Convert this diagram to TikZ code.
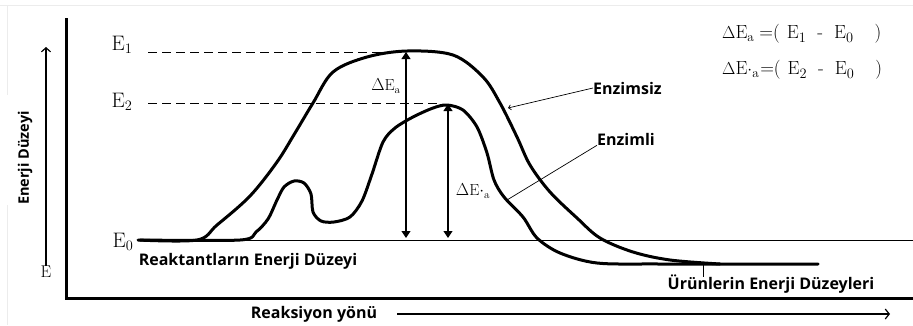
\documentclass[tikz,border=0pt]{standalone}
\usepackage{fontspec}
\newfontfamily\labfont{Open Sans}
\usetikzlibrary{arrows.meta}
\begin{document}
\begin{tikzpicture}[x=1pt,y=-1pt,
  curve/.style={line width=3pt,line join=round,line cap=round},
  frame/.style={line width=3pt},
  thinline/.style={line width=0.9pt},
  dashline/.style={line width=1pt,dash pattern=on 9pt off 5pt},
  darrow/.style={line width=1.1pt,{Triangle[length=7pt,width=9pt]}-{Triangle[length=7pt,width=9pt]}},
  lab/.style={font=\labfont\bfseries\fontsize{16}{18}\selectfont,text=black,inner sep=0pt},
  elab/.style={font=\fontsize{21}{23}\selectfont,inner sep=0pt},
  dlab/.style={font=\fontsize{16}{18}\selectfont,inner sep=0pt},
  flab/.style={font=\fontsize{19}{21}\selectfont,inner sep=0pt,anchor=west},
  leader/.style={line width=0.7pt}]
\useasboundingbox (0,0) rectangle (913,325);
\fill[white] (0,0) rectangle (913,325);
% faint screenshot borders
\draw[gray!15,line width=0.8pt] (0,5) -- (913,5);
\draw[gray!15,line width=0.8pt] (7,5) -- (7,95);
\draw[gray!15,line width=0.8pt] (7,205) -- (7,325);
% frame
\coordinate (ftop) at (66,18);
\coordinate (fcorner) at (66,298);
\coordinate (fright) at (913,298);
\draw[frame] (ftop) -- (fcorner) -- (fright);
% y axis arrow
\node[elab,font=\fontsize{17}{18}\selectfont] (E) at (46,272) {E};
\coordinate (ytop) at (46,47);
\draw[line width=1.2pt,-{Straight Barb[length=4pt,width=9pt]}] (E.north) -- (ytop);
\node[lab,rotate=90,font=\labfont\bfseries\fontsize{14.5}{16}\selectfont] (ylab) at (25,158) {Enerji Düzeyi};
% level labels
\node[elab] (E1) at (122,45) {E$_1$};
\node[elab] (E2) at (122,102) {E$_2$};
\node[elab] (E0) at (123,242) {E$_0$};
% dashed levels
\coordinate (e1end) at (400,52);
\coordinate (e2end) at (442,103);
\draw[dashline] (148,52) -- (e1end);
\draw[dashline] (148,103) -- (e2end);
% E0 line
\coordinate (e0end) at (913,240);
\draw[thinline] (138,240) -- (e0end);
% enzimsiz curve
\draw[curve] plot[smooth,tension=0.55] coordinates {(138,240) (197,240) (217,225) (250,196) (277,162) (295,133) (313,103) (333,72) (367,57) (407,51) (453,55) (483,77) (500,103) (517,137) (530,165) (550,192) (577,218) (600,238) (633,252) (670,260) (720,264)};
% enzimli curve
\draw[curve] plot[smooth,tension=0.5] coordinates {(140,240) (240,240) (256,232) (268,219) (277,200) (284,187) (294,181) (304,183) (311,194) (313,212) (321,221) (334,222) (350,217) (362,201) (372,174) (383,142) (395,128) (413,117) (433,108) (447,105) (463,110) (477,127) (487,153) (494,180) (504,197) (523,217) (537,238) (560,253) (597,263) (660,264) (818,264)};
% activation arrows
\coordinate (a1t) at (406,52);
\coordinate (a1b) at (406,238);
\coordinate (a2t) at (448,104);
\coordinate (a2b) at (448,238);
\draw[darrow] (a1t) -- (a1b);
\draw[darrow] (a2t) -- (a2b);
\node[dlab] (dEa) at (386,86) {$\Delta$E$_{\mathrm a}$};
\node[dlab] (dEpa) at (473,191) {$\Delta$E$\cdot_{\mathrm a}$};
% formulas
\node[flab] (f1) at (722,34) {$\Delta$E$_{\mathrm a}$\hspace{5pt}=(\hspace{7pt}E$_1$\hspace{11pt}-\hspace{11pt}E$_0$\hspace{21pt})};
\node[flab] (f2) at (722,70) {$\Delta$E$\cdot_{\mathrm a}$\hspace{1pt}=(\hspace{7pt}E$_2$\hspace{11pt}-\hspace{11pt}E$_0$\hspace{21pt})};
% curve labels
\node[lab,anchor=west] (nz) at (593,88) {Enzimsiz};
\node[lab,anchor=west] (wz) at (597,139) {Enzimli};
\coordinate (nzp) at (508,108);
\coordinate (wzp) at (507,200);
\draw[leader,-{Straight Barb[length=2.5pt,width=5pt]}] (nz.west) -- (nzp);
\draw[leader] (wz.south west) -- (wzp);
% level text
\node[lab] (reak) at (248,261) {Reaktantların Enerji Düzeyi};
\node[lab] (urun) at (771,284) {Ürünlerin Enerji Düzeyleri};
\coordinate (utick) at (703,265);
\draw[line width=0.5pt] (utick) -- (703,277);
% x axis
\node[lab] (rx) at (314,314) {Reaksiyon yönü};
\coordinate (xend) at (890,314);
\draw[line width=1.2pt,-{Straight Barb[length=4pt,width=10pt]}] (397,314) -- (xend);
\end{tikzpicture}
\end{document}
